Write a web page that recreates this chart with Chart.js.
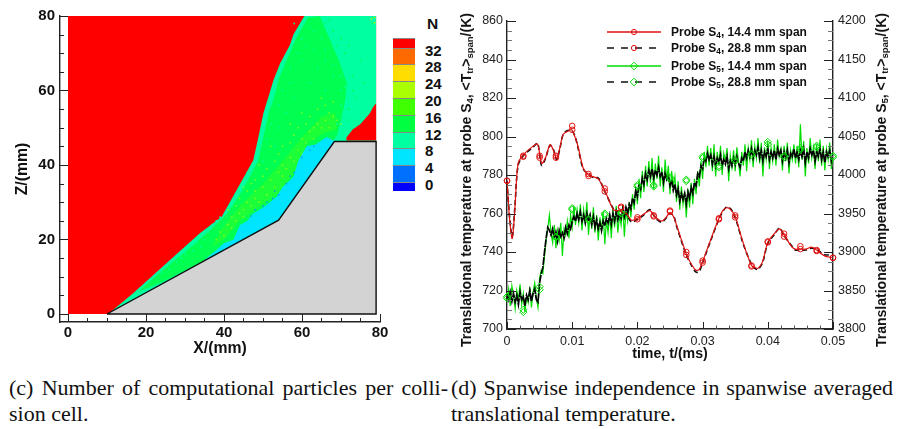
<!DOCTYPE html>
<html><head><meta charset="utf-8">
<script src="https://cdn.jsdelivr.net/npm/chart.js@4"></script>
<style>
html,body{margin:0;padding:0;background:#fff;width:897px;height:429px;overflow:hidden;font-family:"Liberation Sans",sans-serif}
canvas{position:absolute}
.abs{position:absolute;white-space:nowrap}
.rot{position:absolute;white-space:nowrap;transform:translate(-50%,-50%) rotate(-90deg);font-weight:bold;font-size:14px;color:#111}
sub{font-size:68%;line-height:0;vertical-align:-0.25em}
.cap{position:absolute;font-family:"Liberation Serif",serif;font-size:22px;color:#111;white-space:nowrap;line-height:26px}
.just{text-align:justify;text-align-last:justify;white-space:normal}
.lg{position:absolute;left:671px;font-weight:bold;font-size:12px;color:#111;white-space:nowrap;line-height:14px}
.cb{position:absolute;left:393px;width:22px;box-sizing:border-box;border-top:1px solid #888}
.cbl{position:absolute;left:425px;font-weight:bold;font-size:15px;color:#111;transform:translateY(-50%)}
</style></head><body>
<canvas id="contour" width="393" height="358" style="left:0;top:0"></canvas>
<canvas id="lines" width="447" height="363" style="left:450px;top:0"></canvas>
<div class="rot" style="left:466px;top:180px">Translational temperature at probe S<sub>4</sub>, &lt;T<sub>tr</sub>&gt;<sub>span</sub>/(K)</div>
<div class="rot" style="left:881px;top:180px">Translational temperature at probe S<sub>5</sub>, &lt;T<sub>tr</sub>&gt;<sub>span</sub>/(K)</div>
<div id="legend"></div>
<div id="colorbar"></div>
<div class="cap just" style="left:9px;top:375px;width:439px">(c) Number of computational particles per colli-</div>
<div class="cap" style="left:9px;top:401px">sion cell.</div>
<div class="cap just" style="left:451px;top:375px;width:442px">(d) Spanwise independence in spanwise averaged</div>
<div class="cap" style="left:451px;top:401px">translational temperature.</div>
<script>
// ---------- Contour panel data (X mm, Z mm) ----------
const xTicksMajor=[0,20,40,60,80];
const zTicksMajor=[0,20,40,60,80];
const contourMinor=[5,10,15,25,30,35,45,50,55,65,70,75];
const domain=[[0,0],[79,0],[79,80],[0,80]];
const shockLayer=[[60.6,80],[57.8,75],[56.9,72.2],[54.4,67.3],[52.7,62.8],[51.4,58.3],[50.1,53.9],[48.55,46.2],[47.5,41.3],[43.25,33.3],[39.4,26.1],[33.8,21.7],[25.3,13.7],[16.7,5.6],[10.3,0],[79,0],[79,80]];
const greenCore=[[64.5,80],[61.5,79.5],[58.5,74],[56,68],[54,63],[52.8,58],[51.5,54],[49.8,46.2],[48.8,41.3],[44.8,33.3],[40.8,27],[37,23],[31,17.5],[24,11.5],[18,6],[24,8.5],[34.7,14.2],[54,25],[68,46.6],[69,48],[70,52],[71,57],[71.5,62],[69.5,68],[67,74]];
const limeBand=[[37,18],[39.5,23],[44,29],[50,35],[55,41],[60,47.5],[65,53],[68.5,54],[69,49.5],[65.5,48.5],[61.5,46],[58,38],[54,32.5],[48,28],[44,25],[40,20]];
const cyanBand=[[34.7,14.3],[38.1,17.2],[40,19],[42.4,19.9],[44.1,23.9],[46,25],[47.5,27],[50,28.5],[53.5,31.5],[55,34],[57.8,36.8],[59,41],[61.2,45],[63.5,45.5],[66.3,47.5],[68.5,46.3],[54,25]];
const wallPatch=[[71.4,47.4],[73,49.5],[75,51],[77.4,53.9],[78.2,55.5],[79,56.6],[79,46.6],[71.4,46.6]];
const wall=[[10,0],[54,25.2],[68.3,46.3],[79,46.3],[79,0],[10,0]];
const limeSpecks=[[38,20],[39,22],[40,21],[41,24],[42,23],[42,26],[43,25],[44,27],[45,28],[45,26],[46,30],[47,29],[48,31],[48,33],[49,30],[50,34],[51,32],[52,36],[53,34],[54,38],[55,37],[55,40],[56,39],[57,42],[58,41],[59,44],[60,43],[60,47],[61,46],[62,49],[63,47],[64,51],[65,50],[66,52],[67,50],[68,53],[69,52],[67,54],[70,51],[63,50],
[41,28],[43,29],[44,31],[46,33],[47,35],[48,36],[50,37],[51,39],[53,41],[54,43],[55,45],[57,46],[58,48],[59,50],[61,51],[62,53],[64,55],[66,56],[68,57],[65,58],[60,54],[57,51],[52,45],[49,40],[45,34]];
const blueSpecks=[[47,26.3],[48,28],[50,29],[51,30],[52.5,31],[53,33],[54,32],[56,35],[57,37],[58,38],[60,42],[62,44],[63,45]];
const mintSpecks=[[58,78],[60,74],[62,77],[63,71],[60,68],[65,74],[64,66],[66,68],[68,64],[69,70],[57,62],[70,60],[72,66],[54,50],[53,45],[50,41],[46,36],[41,28],[30,16],[35,20],[37,24],[28,14],[24,11],[20,8],
[32,17],[33,19],[36,22],[38,25],[34,18],[29,15],[26,12],[39,26],[42,30],[44,33],[46,38],[49,43],[51,47],[52,51],[54,56],[55,60],[57,66],[59,70],[61,72],[63,76],[66,71],[68,67],[70,64],[71,61],[70,56],[69,51],[66,60],[62,62],[58,58],[56,54]];
const greenSpecks=[[66,78],[68,76],[70,74],[72,72],[73,64],[75,68],[76,62],[71,58],[74,58],[72,55],[78,78],[67,79],[69,72],[71,70],[73,60],[72,52],[30,15.5],[33,18],[36,20]];
const cornerSpecks=[[78.6,79.6],[77.8,79.2],[78.6,78.2]];
const nLabels=["32","28","24","20","16","12","8","4","0"];
const nColors=["#ff0000","#ff6a00","#ffdd00","#aaff00","#3fff00","#00ff40","#00ffa0","#00e5ff","#0070ff","#0000ff"];
const nEdges=[38.3,47.7,64.3,81,98.3,115,131.7,148.3,165,182.3,191.3];

// ---------- Line panel data ----------
const timeMajor=[0,0.01,0.02,0.03,0.04,0.05];
const timeMinor=[0.002,0.004,0.006,0.008,0.012,0.014,0.016,0.018,0.022,0.024,0.026,0.028,0.032,0.034,0.036,0.038,0.042,0.044,0.046,0.048];
const leftMajor=[700,720,740,760,780,800,820,840,860];
const rightMajor=[3800,3850,3900,3950,4000,4050,4100,4150,4200];
const s4Times=[0,.0004,.0008,.0012,.0017,.0025,.004,.0047,.0053,.0059,.0066,.0071,.0076,.0081,.0086,.0092,.0099,.0104,.0109,.0117,.0125,.0133,.014,.015,.0163,.0168,.0175,.0183,.0191,.02,.0209,.0219,.0228,.0237,.0244,.025,.0256,.026,.0275,.0283,.029,.0295,.03,.0312,.0325,.0331,.0337,.0343,.035,.0362,.0375,.038,.0385,.0392,.04,.041,.0418,.0425,.0436,.0442,.0449,.0458,.0467,.0475,.0487,.05];
const s4Span14=[777,757,747,762,786,790.5,795,796,786,789,795.7,793,788.7,794,801,802.5,803.5,800,794.8,783.5,780,779,778,772,762,761.5,761,760,756.5,757.5,759.5,761.5,758,756,758,760.5,758,754,739,733.5,730.5,731,735,746,757.5,761.5,763,762,758.5,745,733,732,731.5,735,745,749.5,752,749,743,741.5,741.5,741.5,742.5,741,738,737];
const s4Span28=[777,758,748,763,785,790,794.5,796.5,785,788.5,795.5,793.5,788,793.5,801,803,803,800.5,794,783,780.5,778.5,778.5,771.5,762.5,761,761.5,759.5,755.5,757,759,762,757.5,755.5,757.5,760,758.5,753.5,738.5,733,729.5,730,734.5,745.5,757,761,763.5,762.5,758,744.5,733.5,731.5,731,734.5,744.5,749,752.5,748.5,743.5,741,741,741,742,741.5,738.5,739];
const markTimes=[0,.0025,.005,.0075,.01,.0125,.015,.0175,.02,.0225,.025,.0275,.03,.0325,.035,.0375,.04,.0425,.045,.0475,.05];
const s4Mark14=[777,790,790,790,805.5,780.5,773,763,758,759,761.5,740,735.5,757.5,759,733,745.5,749.5,743,741,737];
const s4Mark28=[777,789.5,789,789,803.5,779.5,771.5,763.5,757,758.5,761,738.5,734.5,757,758,732.5,745,748,741.5,740.5,737];
const s5Step=0.00025;
const s5Span14=[3838,3852,3830,3856,3844,3826,3850,3838,3858,3832,3846,3822,3842,3834,3854,3828,3848,3860,3840,3828,
3866,3876,3872,3895,3915,3930,3948,3925,3912,3935,3905,3928,3915,3938,3895,3930,3922,3940,3918,3948,
3932,3960,3935,3955,3938,3962,3928,3955,3938,3965,3922,3950,3930,3958,3925,3948,3915,3945,3928,3952,
3910,3942,3925,3950,3918,3955,3932,3960,3925,3948,3935,3962,3920,3955,3940,3965,3945,3975,3955,3985,
3962,3995,3970,4005,3978,4012,3985,4018,3990,4022,3982,4015,3995,4025,3985,4010,3978,4020,3992,4012,
3975,4005,3985,3998,3965,3992,3955,3985,3962,3978,3945,3982,3958,3990,3962,3995,3975,4005,3985,4018,
3995,4030,4010,4038,4012,4035,4005,4040,3998,4030,4012,4038,4000,4028,4018,4035,3992,4025,4010,4032,
4005,4036,4018,3998,4030,4012,4040,4005,4035,4020,4045,4010,4038,4022,4048,4015,4042,3998,4036,4020,
4044,4008,4035,4018,4040,4012,4046,4024,4034,4006,4038,4018,4042,4002,4032,4020,4040,4015,4038,4010,
4066,4020,4044,3998,4035,4015,4048,4022,4036,4008,4040,4018,4046,4012,4038,4006,4034,4020,4042,4008,4026];
const s5Span28=[3845,3838,3848,3836,3846,3835,3844,3832,3848,3838,3842,3830,3844,3838,3850,3836,3846,3852,3838,3835,
3860,3872,3880,3900,3918,3932,3928,3922,3930,3918,3926,3914,3928,3920,3925,3918,3932,3924,3935,3930,
3940,3946,3940,3950,3942,3952,3940,3948,3938,3950,3940,3948,3936,3946,3932,3942,3930,3938,3928,3940,
3934,3944,3938,3948,3936,3950,3940,3952,3942,3950,3944,3956,3946,3958,3950,3962,3956,3970,3964,3980,
3972,3988,3982,3996,3988,4002,3994,4006,3998,4008,3996,4006,4000,4010,3998,4004,3990,4002,3994,3998,
3986,3994,3980,3988,3974,3982,3966,3976,3968,3976,3962,3978,3970,3984,3976,3990,3986,4002,3998,4012,
4008,4022,4018,4028,4020,4026,4014,4024,4012,4022,4016,4026,4012,4020,4014,4024,4008,4018,4012,4022,
4014,4024,4016,4010,4022,4018,4030,4022,4032,4024,4034,4022,4032,4026,4036,4022,4032,4018,4030,4024,
4034,4020,4030,4022,4032,4020,4034,4026,4032,4018,4030,4022,4032,4016,4028,4024,4034,4022,4030,4020,
4032,4024,4034,4016,4030,4022,4034,4026,4032,4018,4030,4024,4034,4020,4030,4016,4030,4024,4032,4018,4026];
const s5Mark14=[3840,3822,3855,3920,3957,3943,3950,3950,3987,3987,3997,3994,4024,4010,4020,4028,4043,4025,4035,4038,4025];
const s5Mark28=[3842,3825,3851,3919,3955,3941,3948,3951,3985,3985,3995,3992,4022,4012,4018,4026,4040,4023,4033,4036,4023];
const legendLabels=['Probe S<sub>4</sub>, 14.4 mm span','Probe S<sub>4</sub>, 28.8 mm span','Probe S<sub>5</sub>, 14.4 mm span','Probe S<sub>5</sub>, 28.8 mm span'];

// ---------- helpers ----------
Chart.defaults.font.family='"Liberation Sans",sans-serif';
const INK='#222';
const xy=a=>a.map(p=>({x:p[0],y:p[1]}));
const poly=(pts,color,order,border)=>({type:'line',data:xy(pts),fill:'shape',backgroundColor:color,borderColor:border||color,borderWidth:border?1.4:0,pointRadius:0,tension:0,order,clip:false});
const specks=(pts,color,order,r)=>({type:'line',data:xy(pts),showLine:false,pointStyle:'rect',pointRadius:r||1.1,pointBackgroundColor:color,pointBorderWidth:0,order});
function inward(list){return {id:'inward',afterDraw(c){const g=c.ctx;g.save();g.lineWidth=1;
  for(const t of list){const s=c.scales[t.scale];g.strokeStyle=t.color||INK;
    for(const v of t.values){const p=s.getPixelForValue(v);g.beginPath();
      if(t.side==='left'){g.moveTo(s.right,Math.round(p)+.5);g.lineTo(s.right+t.len,Math.round(p)+.5);}
      else if(t.side==='right'){g.moveTo(s.left,Math.round(p)+.5);g.lineTo(s.left-t.len,Math.round(p)+.5);}
      else{g.moveTo(Math.round(p)+.5,s.top);g.lineTo(Math.round(p)+.5,s.top-t.len);}
      g.stroke();}}
  g.restore();}};}
const fixed=(vals)=>({afterBuildTicks(s){s.ticks=vals.map(v=>({value:v}));}});
const fit=(prop,n)=>({afterFit(s){s[prop]=n;}});

// ---------- contour chart ----------
new Chart(document.getElementById('contour'),{
 type:'line',
 data:{datasets:[
  poly(domain,'#ff0000',20),
  poly(shockLayer,'#00ffa0',19),
  poly(greenCore,'#00ff50',18),
  poly(limeBand,'#1cff38',17),
  specks(mintSpecks,'#00ffa0',16,1.1),
  specks(greenSpecks,'#00ff50',16,1.1),
  specks(limeSpecks,'#90ff10',15,1),
  poly(cyanBand,'#00e5ff',14),
  specks(blueSpecks,'#0090ff',13,1),
  poly(wallPatch,'#ff0000',12),
  specks(cornerSpecks,'#d0f000',11,1),
  poly(wall,'#d3d3d3',1,'#111')
 ]},
 options:{responsive:false,animation:false,events:[],
  layout:{padding:{top:16,right:13,left:13,bottom:0}},
  plugins:{legend:{display:false},tooltip:{enabled:false}},
  scales:{
   x:{type:'linear',min:-2.05,max:80,...fixed(xTicksMajor),...fit('height',36),
      border:{display:true,color:INK,width:1.4},grid:{drawOnChartArea:false,drawTicks:false},
      ticks:{padding:2,color:'#111',font:{size:15,weight:'bold'},maxRotation:0,autoSkip:false},
      title:{display:true,text:'X/(mm)',color:'#111',font:{size:15.8,weight:'bold'},padding:{top:0,bottom:0}}},
   y:{type:'linear',min:-2.15,max:80,...fixed(zTicksMajor),...fit('width',47),
      border:{display:true,color:INK,width:1.4},grid:{drawOnChartArea:false,drawTicks:false},
      ticks:{padding:5,color:'#111',font:{size:15,weight:'bold'},autoSkip:false},
      title:{display:true,text:'Z/(mm)',color:'#111',font:{size:15.8,weight:'bold'},padding:{top:0,bottom:0}}}
  }},
 plugins:[inward([
  {scale:'y',side:'left',len:8,values:zTicksMajor},
  {scale:'y',side:'left',len:4,values:contourMinor},
  {scale:'x',side:'bottom',len:8,values:xTicksMajor},
  {scale:'x',side:'bottom',len:4,values:contourMinor}])]
});

// ---------- line chart ----------
const pairs=(t,v)=>t.map((x,i)=>({x,y:v[i]}));
const s5Times=s5Span14.map((_,i)=>i*s5Step);
const lineDs=(t,v,color,axis,order,extra)=>({type:'line',data:pairs(t,v),borderColor:color,borderWidth:1.3,pointRadius:0,yAxisID:axis,order,fill:false,...extra});
const markDs=(t,v,color,axis,style,r)=>({type:'line',data:pairs(t,v),showLine:false,pointStyle:style,pointRadius:r,pointBorderColor:color,pointBorderWidth:1,pointBackgroundColor:'rgba(0,0,0,0)',yAxisID:axis,order:0,clip:false});
new Chart(document.getElementById('lines'),{
 type:'line',
 data:{datasets:[
  lineDs(s5Times,s5Span14,'#00dd00','yR',4,{borderWidth:1.2}),
  lineDs(s5Times,s5Span28,'#000','yR',3,{borderWidth:1.7,borderDash:[8,1]}),
  lineDs(s4Times,s4Span28,'#111','yL',2,{borderWidth:1.6,borderDash:[5,3],tension:.3}),
  lineDs(s4Times,s4Span14,'#e01010','yL',1,{borderWidth:1.2,tension:.3}),
  markDs(markTimes,s4Mark14,'#e01010','yL','circle',2.8),
  markDs(markTimes,s4Mark28,'#e01010','yL','circle',2.8),
  markDs(markTimes,s5Mark14,'#00dd00','yR','rectRot',3.6),
  markDs(markTimes,s5Mark28,'#00dd00','yR','rectRot',3.6)
 ]},
 options:{responsive:false,animation:false,events:[],
  layout:{padding:{top:21,right:0,left:0,bottom:0}},
  plugins:{legend:{display:false},tooltip:{enabled:false}},
  scales:{
   x:{type:'linear',min:0,max:0.05,...fixed(timeMajor),...fit('height',34),
      border:{display:true,color:INK,width:1.4},grid:{drawOnChartArea:false,drawTicks:false},
      ticks:{padding:5,color:'#222',font:{size:12.5},maxRotation:0,autoSkip:false,callback:v=>v===0?'0':String(v)},
      title:{display:true,text:'time, t/(ms)',color:'#111',font:{size:14.2,weight:'bold'},padding:{top:0,bottom:0}}},
   yL:{type:'linear',position:'left',min:700,max:860,...fixed(leftMajor),...fit('width',57),
      border:{display:true,color:INK,width:1.4},grid:{drawOnChartArea:false,drawTicks:false},
      ticks:{padding:4,color:'#222',font:{size:12.5},autoSkip:false,callback:v=>String(v)}},
   yR:{type:'linear',position:'right',min:3800,max:4200,...fixed(rightMajor),...fit('width',64),
      border:{display:true,color:INK,width:1.4},grid:{drawOnChartArea:false,drawTicks:false},
      ticks:{padding:5,color:'#222',font:{size:12.5},autoSkip:false,callback:v=>String(v)}}
  }},
 plugins:[inward([
  {scale:'yL',side:'left',len:9,values:leftMajor},
  {scale:'yL',side:'left',len:5,color:'#777',values:[705,710,715,725,730,735,745,750,755,765,770,775,785,790,795,805,810,815,825,830,835,845,850,855]},
  {scale:'yR',side:'right',len:9,values:rightMajor},
  {scale:'yR',side:'right',len:5,color:'#777',values:[3812.5,3825,3837.5,3862.5,3875,3887.5,3912.5,3925,3937.5,3962.5,3975,3987.5,4012.5,4025,4037.5,4062.5,4075,4087.5,4112.5,4125,4137.5,4162.5,4175,4187.5]},
  {scale:'x',side:'bottom',len:7,values:timeMajor},
  {scale:'x',side:'bottom',len:3.5,color:'#555',values:timeMinor}])]
});

// ---------- legend and colour bar (real text) ----------
const legendY=[31.7,48.3,65.7,82.3];
const legendStyle=[['#e01010',0,'c'],['#111',1,'c'],['#00dd00',0,'d'],['#111',1,'d']];
let h='';
legendLabels.forEach((txt,i)=>{
 const y=legendY[i],[col,dash,m]=legendStyle[i],mc=m==='c'?'#e01010':'#00dd00';
 const mark=m==='c'?`<circle cx="27" cy="7" r="2.6" fill="none" stroke="${mc}" stroke-width="1"/>`
   :`<path d="M27 3.2 L30.8 7 L27 10.8 L23.2 7 Z" fill="none" stroke="${mc}" stroke-width="1"/>`;
 h+=`<svg style="position:absolute;left:607px;top:${y-7}px" width="55" height="14"><line x1="0" x2="54" y1="7" y2="7" stroke="${col}" stroke-width="1.3" ${dash?'stroke-dasharray="7 7"':''}/>${mark}</svg>`;
 h+=`<div class="lg" style="top:${y-7}px">${txt}</div>`;
});
document.getElementById('legend').innerHTML=h;
let cb=`<div class="cbl" style="top:24px;left:427px;font-size:15.5px">N</div>`;
nColors.forEach((c,i)=>{cb+=`<div class="cb" style="top:${nEdges[i]}px;height:${nEdges[i+1]-nEdges[i]}px;background:${c}"></div>`;});
nLabels.forEach((t,i)=>{cb+=`<div class="cbl" style="top:${nEdges[i+1]+2}px">${t}</div>`;});
document.getElementById('colorbar').innerHTML=cb;
</script>
</body></html>
